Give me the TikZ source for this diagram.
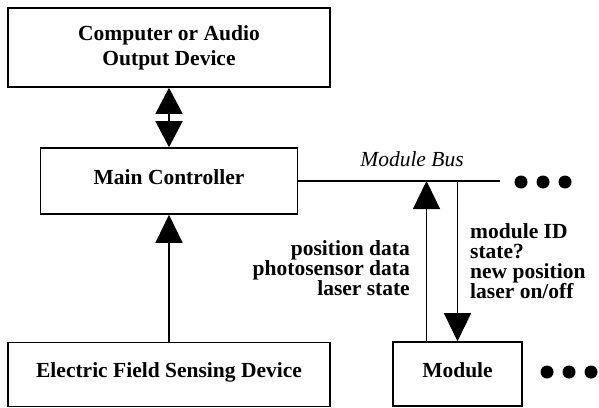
\documentclass[tikz,border=0pt]{standalone}
\usepackage{fontspec}
\setmainfont{Liberation Serif}
\usetikzlibrary{arrows.meta,positioning}

\begin{document}
\begin{tikzpicture}[x=1pt,y=-1pt,
        box/.style={draw,line width=1.6pt,inner sep=0pt,font=\fontsize{21.5}{20}\selectfont\bfseries},
        link/.style={line width=1.3pt,-{Triangle[length=28pt,width=27pt]}},
        lbl/.style={inner sep=0pt,font=\fontsize{21.5}{20}\selectfont\bfseries}]
        \useasboundingbox (0,0) rectangle (599,407);

        \node[box,minimum width=322pt,minimum height=79pt,align=center] (computer) at (169,47.5) {Computer or Audio\\[5pt]Output Device};
        \node[box,minimum width=257pt,minimum height=66pt,text height=15pt,text depth=9pt] (main) at (169,181) {Main Controller};
        \node[box,minimum width=322pt,minimum height=64pt,text height=15pt,text depth=9pt] (efsd) at (169,374.5) {Electric Field Sensing Device};
        \node[box,minimum width=129pt,minimum height=64pt,text height=15pt,text depth=9pt] (module) at (457.5,374) {Module};

        \draw[line width=1.3pt,{Triangle[length=26pt,width=27pt]}-{Triangle[length=26pt,width=27pt]}] (computer.south) -- (main.north);
        \draw[link] (efsd.north) -- (main.south);

        % module bus
        \coordinate (bus_end) at (500,181);
        \draw[line width=1.3pt] (main.east) -- (bus_end);
        \node[inner sep=0pt,anchor=base,font=\fontsize{21.5}{20}\selectfont\itshape] (bus_lbl) at (412,166) {Module Bus};
        \foreach \x in {521,543,565} {
            \fill (\x,182) circle (6.5pt);
        }

        \coordinate (up_foot) at ([xshift=-31pt]module.north);
        \draw[link] (up_foot) -- (up_foot |- bus_end);
        \draw[link] (module.north |- bus_end) -- (module.north);

        \node[lbl,align=right,anchor=north east] (up_lbl) at (410,240) {position data\\photosensor data\\laser state};
        \node[lbl,align=left,anchor=north west] (down_lbl) at (470,223) {module ID\\state?\\new position\\laser on/off};

        \foreach \x in {547,569,591} {
            \fill (\x,372) circle (6.5pt);
        }
    \end{tikzpicture}
\end{document}
